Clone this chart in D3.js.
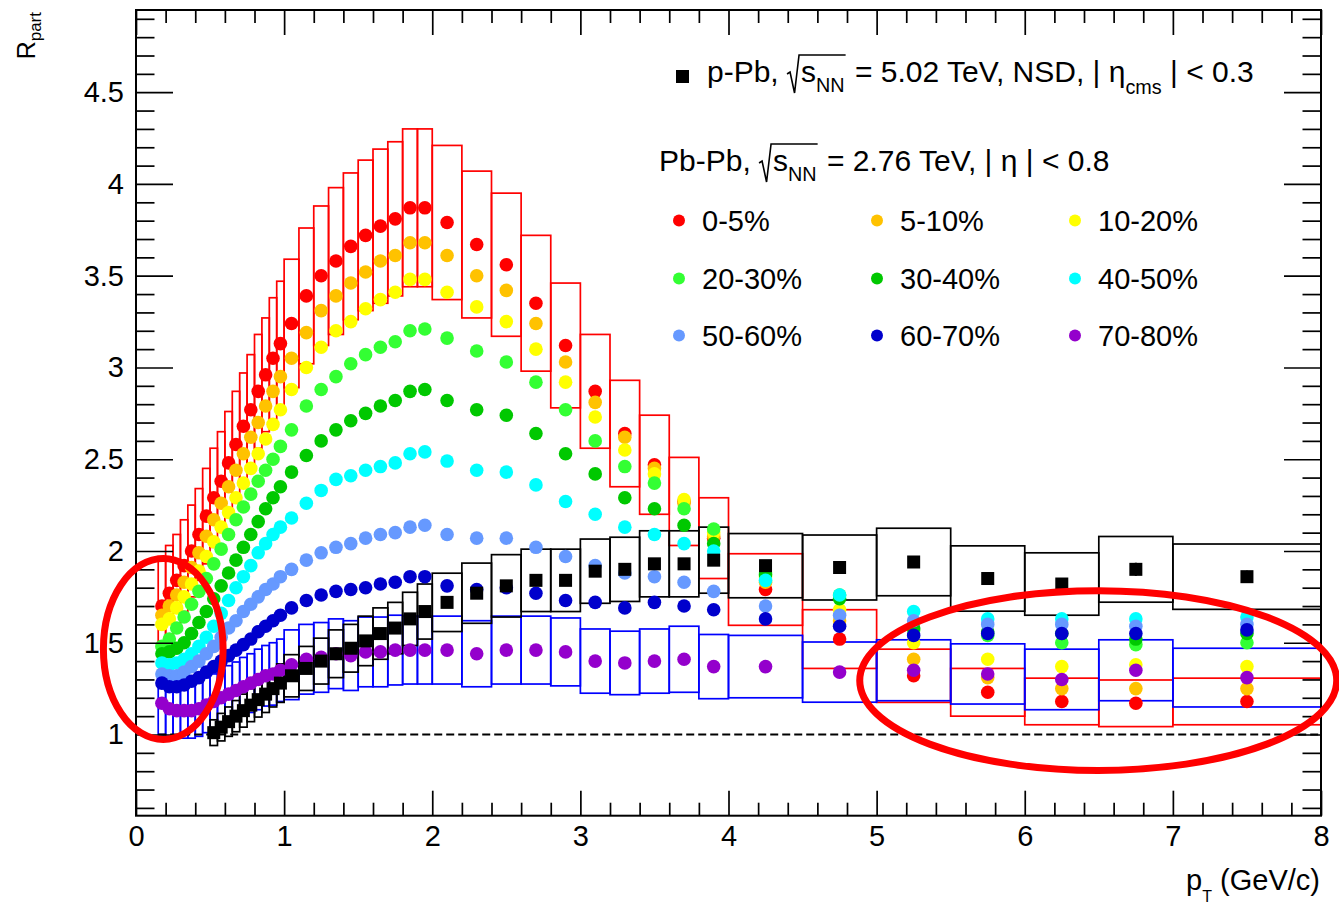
<!DOCTYPE html>
<html>
<head>
<meta charset="utf-8">
<script src="https://cdn.jsdelivr.net/npm/d3@7/dist/d3.min.js"></script>
<style>
  html, body { margin: 0; padding: 0; background: #fff; }
  svg { display: block; }
  text { font-family: "Liberation Sans", Arial, Helvetica, sans-serif; white-space: pre; }
</style>
</head>
<body>
<svg id="chart" width="1339" height="904"></svg>
<script>
// ---------------- data ----------------
// Pb-Pb pT bin edges (GeV/c)
const ptEdges = [0.15, 0.20, 0.25, 0.30, 0.35, 0.40, 0.45, 0.50, 0.55, 0.60, 0.65, 0.70, 0.75, 0.80, 0.85, 0.90, 0.95, 1.00,
  1.1, 1.2, 1.3, 1.4, 1.5, 1.6, 1.7, 1.8, 1.9, 2.0,
  2.2, 2.4, 2.6, 2.8, 3.0, 3.2, 3.4, 3.6, 3.8, 4.0,
  4.5, 5.0, 5.5, 6.0, 6.5, 7.0, 8.0];

// p-Pb pT bin edges (GeV/c)
const ptEdgesPPb = [0.50, 0.55, 0.60, 0.65, 0.70, 0.75, 0.80, 0.85, 0.90, 0.95, 1.00,
  1.1, 1.2, 1.3, 1.4, 1.5, 1.6, 1.7, 1.8, 1.9, 2.0,
  2.2, 2.4, 2.6, 2.8, 3.0, 3.2, 3.4, 3.6, 3.8, 4.0,
  4.5, 5.0, 5.5, 6.0, 6.5, 7.0, 8.0];

const centralityLabels = ["0-5%", "5-10%", "10-20%", "20-30%", "30-40%", "40-50%", "50-60%", "60-70%", "70-80%"];

// R_part per centrality class, one value per Pb-Pb bin
const rpart0005 = [1.70, 1.77, 1.84, 1.92, 2.00, 2.09, 2.19, 2.29, 2.38, 2.48, 2.58, 2.68, 2.77, 2.87, 2.96, 3.05, 3.13,
  3.24, 3.39, 3.50, 3.58, 3.66, 3.72, 3.77, 3.81, 3.87, 3.87,
  3.79, 3.67, 3.56, 3.35, 3.12, 2.87, 2.64, 2.47, 2.27, 2.07,
  1.79, 1.52, 1.32, 1.23, 1.18, 1.17, 1.18];
const rpart0510 = [1.65, 1.70, 1.76, 1.83, 1.91, 1.99, 2.08, 2.17, 2.26, 2.35, 2.44, 2.53, 2.62, 2.70, 2.79, 2.87, 2.95,
  3.05, 3.19, 3.31, 3.39, 3.46, 3.52, 3.58, 3.61, 3.68, 3.68,
  3.61, 3.50, 3.42, 3.24, 3.03, 2.81, 2.62, 2.45, 2.26, 2.08,
  1.83, 1.62, 1.41, 1.31, 1.25, 1.25, 1.25];
const rpart1020 = [1.60, 1.63, 1.69, 1.75, 1.82, 1.89, 1.97, 2.05, 2.13, 2.21, 2.29, 2.37, 2.45, 2.53, 2.61, 2.69, 2.77,
  2.88, 3.00, 3.11, 3.20, 3.25, 3.32, 3.37, 3.41, 3.48, 3.48,
  3.41, 3.33, 3.25, 3.10, 2.92, 2.73, 2.55, 2.42, 2.28, 2.10,
  1.86, 1.68, 1.50, 1.41, 1.37, 1.38, 1.37];
const rpart2030 = [1.48, 1.52, 1.58, 1.64, 1.71, 1.78, 1.85, 1.93, 2.01, 2.09, 2.17, 2.24, 2.31, 2.38, 2.44, 2.50, 2.57,
  2.66, 2.79, 2.88, 2.95, 3.02, 3.07, 3.11, 3.14, 3.20, 3.21,
  3.16, 3.09, 3.03, 2.92, 2.77, 2.60, 2.46, 2.37, 2.23, 2.12,
  1.88, 1.76, 1.57, 1.54, 1.50, 1.49, 1.50];
const rpart3040 = [1.44, 1.45, 1.47, 1.50, 1.55, 1.61, 1.67, 1.74, 1.81, 1.88, 1.95, 2.02, 2.09, 2.16, 2.23, 2.29, 2.35,
  2.43, 2.52, 2.60, 2.66, 2.71, 2.75, 2.79, 2.82, 2.87, 2.88,
  2.82, 2.77, 2.74, 2.64, 2.53, 2.42, 2.29, 2.23, 2.14, 2.04,
  1.87, 1.74, 1.58, 1.56, 1.55, 1.52, 1.55];
const rpart4050 = [1.39, 1.38, 1.39, 1.41, 1.44, 1.48, 1.53, 1.59, 1.66, 1.73, 1.80, 1.86, 1.92, 1.99, 2.04, 2.09, 2.13,
  2.18, 2.26, 2.33, 2.39, 2.41, 2.44, 2.46, 2.48, 2.53, 2.54,
  2.49, 2.44, 2.43, 2.36, 2.27, 2.20, 2.13, 2.09, 2.04, 2.00,
  1.84, 1.76, 1.67, 1.63, 1.63, 1.63, 1.64];
const rpart5060 = [1.33, 1.32, 1.32, 1.34, 1.37, 1.40, 1.44, 1.48, 1.53, 1.58, 1.62, 1.67, 1.71, 1.75, 1.79, 1.82, 1.86,
  1.90, 1.95, 1.99, 2.02, 2.04, 2.07, 2.09, 2.10, 2.13, 2.14,
  2.09, 2.07, 2.07, 2.02, 1.97, 1.92, 1.88, 1.86, 1.83, 1.78,
  1.70, 1.65, 1.62, 1.60, 1.60, 1.59, 1.60];
const rpart6070 = [1.28, 1.26, 1.26, 1.27, 1.29, 1.31, 1.34, 1.37, 1.40, 1.43, 1.46, 1.49, 1.52, 1.56, 1.59, 1.62, 1.65,
  1.69, 1.73, 1.76, 1.78, 1.79, 1.80, 1.82, 1.83, 1.86, 1.86,
  1.81, 1.79, 1.80, 1.77, 1.73, 1.72, 1.69, 1.72, 1.70, 1.68,
  1.63, 1.59, 1.54, 1.55, 1.55, 1.55, 1.57];
const rpart7080 = [1.17, 1.14, 1.13, 1.13, 1.13, 1.14, 1.16, 1.18, 1.20, 1.22, 1.24, 1.26, 1.28, 1.30, 1.32, 1.33, 1.35,
  1.38, 1.41, 1.42, 1.44, 1.43, 1.45, 1.45, 1.46, 1.46, 1.46,
  1.46, 1.44, 1.46, 1.46, 1.45, 1.40, 1.39, 1.40, 1.41, 1.37,
  1.37, 1.34, 1.35, 1.33, 1.30, 1.35, 1.31];

// systematic uncertainties (absolute) for 0-5% and 70-80%
const sys0005 = [0.27, 0.26, 0.25, 0.25, 0.25, 0.25, 0.26, 0.27, 0.27, 0.28, 0.29, 0.29, 0.30, 0.31, 0.31, 0.33, 0.34,
  0.35, 0.37, 0.38, 0.40, 0.40, 0.41, 0.42, 0.42, 0.43, 0.43,
  0.42, 0.40, 0.39, 0.37, 0.34, 0.31, 0.29, 0.27, 0.24, 0.22,
  0.195, 0.16, 0.145, 0.13, 0.127, 0.127, 0.127];
const sys7080 = [0.17, 0.15, 0.15, 0.15, 0.15, 0.15, 0.15, 0.15, 0.15, 0.155, 0.155, 0.16, 0.16, 0.165, 0.165, 0.17, 0.17,
  0.19, 0.19, 0.19, 0.19, 0.19, 0.19, 0.19, 0.19, 0.185, 0.185,
  0.185, 0.18, 0.185, 0.185, 0.185, 0.175, 0.173, 0.175, 0.18, 0.175,
  0.17, 0.164, 0.166, 0.164, 0.165, 0.166, 0.16];

// p-Pb R_part, systematic and statistical uncertainties
const rpartPPb = [1.01, 1.04, 1.07, 1.10, 1.13, 1.16, 1.19, 1.22, 1.25, 1.28,
  1.32, 1.36, 1.40, 1.44, 1.47, 1.51, 1.55, 1.58, 1.63, 1.67,
  1.72, 1.77, 1.81, 1.84, 1.84, 1.89, 1.90, 1.93, 1.93, 1.95,
  1.92, 1.91, 1.94, 1.85, 1.82, 1.90, 1.86];
const sysPPb = [0.07, 0.075, 0.08, 0.085, 0.09, 0.09, 0.095, 0.10, 0.10, 0.105,
  0.115, 0.12, 0.125, 0.13, 0.13, 0.135, 0.14, 0.14, 0.145, 0.15,
  0.159, 0.164, 0.17, 0.17, 0.17, 0.175, 0.175, 0.18, 0.18, 0.18,
  0.175, 0.177, 0.184, 0.178, 0.17, 0.179, 0.178];
const statPPb = [0, 0, 0, 0, 0, 0, 0, 0, 0, 0,
  0, 0, 0, 0, 0, 0, 0, 0, 0, 0,
  0, 0, 0, 0, 0, 0, 0, 0, 0, 0,
  0.01, 0.01, 0.012, 0.015, 0.03, 0.036, 0.033];

// axis ticks
const xMajorTicks = [0, 1, 2, 3, 4, 5, 6, 7, 8];
const xTickLabels = ["0", "1", "2", "3", "4", "5", "6", "7", "8"];
const yMajorTicks = [1, 1.5, 2, 2.5, 3, 3.5, 4, 4.5];
const yTickLabels = ["1", "1.5", "2", "2.5", "3", "3.5", "4", "4.5"];

// highlighted regions (ellipses): centre pT, centre R, half-width in pT, half-height in R
const highlightCx = [0.184, 6.496];
const highlightCy = [1.466, 1.294];
const highlightRx = [0.404, 1.610];
const highlightRy = [0.493, 0.490];

// ---------------- styles ----------------
const seriesColors = ["#ff0000", "#ffc200", "#ffff00", "#33ff33", "#00c800", "#00ffff", "#6699ff", "#0000cc", "#9400cc"];
const pbpbSeries = [rpart0005, rpart0510, rpart1020, rpart2030, rpart3040, rpart4050, rpart5060, rpart6070, rpart7080];

const svg = d3.select("#chart");
const frame = { left: 136, right: 1321, top: 10, bottom: 815.7 };
const x = d3.scaleLinear().domain([0, 8]).range([frame.left, frame.right]);
const y = d3.scaleLinear().domain([0.5575, 4.948]).range([frame.bottom, frame.top]);

svg.append("rect").attr("width", 1339).attr("height", 904).attr("fill", "#fff");

const mid = (edges, i) => (edges[i] + edges[i + 1]) / 2;

// systematic-uncertainty boxes
function drawBoxes(edges, vals, sys, color) {
  svg.append("g").selectAll("rect")
    .data(vals.map((v, i) => ({ x0: edges[i], x1: edges[i + 1], v, s: sys[i] })))
    .join("rect")
    .attr("x", d => x(d.x0))
    .attr("width", d => x(d.x1) - x(d.x0))
    .attr("y", d => y(d.v + d.s))
    .attr("height", d => y(d.v - d.s) - y(d.v + d.s))
    .attr("fill", "none")
    .attr("stroke", color)
    .attr("stroke-width", 1.7);
}
drawBoxes(ptEdges, rpart0005, sys0005, "#ff0000");
drawBoxes(ptEdges, rpart7080, sys7080, "#0000ff");
drawBoxes(ptEdgesPPb, rpartPPb, sysPPb, "#000000");

// reference line at R_part = 1
svg.append("line")
  .attr("x1", x(0.15)).attr("x2", x(8))
  .attr("y1", y(1)).attr("y2", y(1))
  .attr("stroke", "#000").attr("stroke-width", 1.8)
  .attr("stroke-dasharray", "8,4");

// Pb-Pb points
pbpbSeries.forEach((vals, k) => {
  svg.append("g").selectAll("circle")
    .data(vals.map((v, i) => ({ pt: mid(ptEdges, i), v })))
    .join("circle")
    .attr("cx", d => x(d.pt))
    .attr("cy", d => y(d.v))
    .attr("r", 6.8)
    .attr("fill", seriesColors[k]);
});

// p-Pb points with statistical bars
const pPbData = rpartPPb.map((v, i) => ({ pt: mid(ptEdgesPPb, i), v, st: statPPb[i] }));
svg.append("g").selectAll("line")
  .data(pPbData.filter(d => d.st > 0))
  .join("line")
  .attr("x1", d => x(d.pt)).attr("x2", d => x(d.pt))
  .attr("y1", d => y(d.v - d.st)).attr("y2", d => y(d.v + d.st))
  .attr("stroke", "#000").attr("stroke-width", 2);
svg.append("g").selectAll("rect")
  .data(pPbData)
  .join("rect")
  .attr("x", d => x(d.pt) - 6.5)
  .attr("y", d => y(d.v) - 6.5)
  .attr("width", 13).attr("height", 13)
  .attr("fill", "#000");

// ---------------- axes ----------------
const fontSize = 29;
const yMinorTicks = d3.range(6, 50).map(i => i / 10).filter(v => !yMajorTicks.includes(v));
const xMinorTicks = d3.range(0, 41).map(i => i / 5).filter(v => !xMajorTicks.includes(v));

function styleAxis(g) {
  g.select(".domain").remove();
  g.selectAll("line").attr("stroke", "#000").attr("stroke-width", 1.7);
  g.attr("font-size", fontSize).attr("font-family", '"Liberation Sans", Arial, sans-serif');
  g.selectAll("text").attr("fill", "#000");
}

svg.append("g").attr("transform", `translate(${frame.left},0)`)
  .call(d3.axisLeft(y).tickValues(yMajorTicks).tickSize(-37).tickPadding(12).tickFormat((d, i) => yTickLabels[i]))
  .call(styleAxis);
svg.append("g").attr("transform", `translate(${frame.left},0)`)
  .call(d3.axisLeft(y).tickValues(yMinorTicks).tickSize(-18.5).tickFormat(""))
  .call(styleAxis);
svg.append("g").attr("transform", `translate(${frame.right},0)`)
  .call(d3.axisRight(y).tickValues(yMajorTicks).tickSize(-37).tickFormat(""))
  .call(styleAxis);
svg.append("g").attr("transform", `translate(${frame.right},0)`)
  .call(d3.axisRight(y).tickValues(yMinorTicks).tickSize(-18.5).tickFormat(""))
  .call(styleAxis);

svg.append("g").attr("transform", `translate(0,${frame.bottom})`)
  .call(d3.axisBottom(x).tickValues(xMajorTicks).tickSize(-25).tickPadding(10).tickFormat((d, i) => xTickLabels[i]))
  .call(styleAxis);
svg.append("g").attr("transform", `translate(0,${frame.bottom})`)
  .call(d3.axisBottom(x).tickValues(xMinorTicks).tickSize(-13).tickFormat(""))
  .call(styleAxis);
svg.append("g").attr("transform", `translate(0,${frame.top})`)
  .call(d3.axisTop(x).tickValues(xMajorTicks).tickSize(-25).tickFormat(""))
  .call(styleAxis);
svg.append("g").attr("transform", `translate(0,${frame.top})`)
  .call(d3.axisTop(x).tickValues(xMinorTicks).tickSize(-13).tickFormat(""))
  .call(styleAxis);

svg.append("rect")
  .attr("x", frame.left).attr("y", frame.top)
  .attr("width", frame.right - frame.left).attr("height", frame.bottom - frame.top)
  .attr("fill", "none").attr("stroke", "#000").attr("stroke-width", 2);

// axis titles
const xTitle = svg.append("text")
  .attr("x", 1320).attr("y", 890)
  .attr("text-anchor", "end").attr("font-size", fontSize);
xTitle.append("tspan").text("p");
xTitle.append("tspan").attr("font-size", 16).attr("dy", 12).text("T");
xTitle.append("tspan").attr("dy", -12).text(" (GeV/c)");

const yTitle = svg.append("text")
  .attr("transform", "translate(35,12) rotate(-90)")
  .attr("text-anchor", "end");
yTitle.append("tspan").attr("font-size", 25).text("R");
yTitle.append("tspan").attr("font-size", 17).attr("dy", 6).text("part");

// ---------------- legend ----------------
function drawRich(x0, baseline, parts, size) {
  const g = svg.append("g");
  let cx = x0, rootX = 0;
  parts.forEach(p => {
    if (p.open) { rootX = cx; cx += 14; return; }
    if (p.close) {
      g.append("path")
        .attr("d", `M${rootX},${baseline - 8} L${rootX + 3},${baseline - 10} L${rootX + 7.5},${baseline + 11} L${rootX + 12},${baseline - 27} L${cx + 1},${baseline - 27}`)
        .attr("fill", "none").attr("stroke", "#000").attr("stroke-width", 1.6);
      cx += 2;
      return;
    }
    const t = g.append("text")
      .attr("x", cx)
      .attr("y", baseline + (p.sub ? p.shift : 0))
      .attr("font-size", p.sub ? size * 0.66 : size)
      .attr("fill", "#000")
      .text(p.t);
    cx += t.node().getComputedTextLength();
  });
}

const headerFont = 30;
svg.append("rect").attr("x", 676).attr("y", 70).attr("width", 13).attr("height", 13).attr("fill", "#000");
drawRich(707, 82, [
  { t: "p-Pb, " }, { open: true }, { t: "s" }, { t: "NN", sub: true, shift: 10 }, { close: true },
  { t: " = 5.02 TeV, NSD, | η" }, { t: "cms", sub: true, shift: 12 }, { t: " | < 0.3" }
], headerFont);
drawRich(659, 171, [
  { t: "Pb-Pb, " }, { open: true }, { t: "s" }, { t: "NN", sub: true, shift: 10 }, { close: true },
  { t: " = 2.76 TeV, | η | < 0.8" }
], headerFont);

const legendColX = [679, 877, 1075];
const legendRowY = [231, 289, 346];
centralityLabels.forEach((lab, k) => {
  const cxL = legendColX[k % 3], base = legendRowY[Math.floor(k / 3)];
  svg.append("circle").attr("cx", cxL).attr("cy", base - 10.5).attr("r", 6).attr("fill", seriesColors[k]);
  svg.append("text").attr("x", cxL + 23).attr("y", base).attr("font-size", fontSize).attr("fill", "#000").text(lab);
});

// ---------------- highlighted regions ----------------
highlightCx.forEach((c, i) => {
  svg.append("ellipse")
    .attr("cx", x(c)).attr("cy", y(highlightCy[i]))
    .attr("rx", x(highlightRx[i]) - x(0))
    .attr("ry", y(0) - y(highlightRy[i]))
    .attr("fill", "none").attr("stroke", "#ff0000").attr("stroke-width", 7);
});
</script>
</body>
</html>
